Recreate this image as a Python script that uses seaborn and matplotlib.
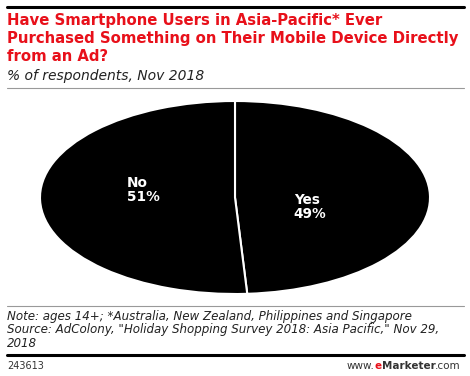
import matplotlib
matplotlib.use("Agg")
import matplotlib.pyplot as plt
import seaborn as sns
from matplotlib.lines import Line2D

# ---------- Data ----------
answers = ["Yes", "No"]
shares = [49, 51]

title = ("Have Smartphone Users in Asia-Pacific* Ever\n"
         "Purchased Something on Their Mobile Device Directly\n"
         "from an Ad?")
subtitle = "% of respondents, Nov 2018"
note = ("Note: ages 14+; *Australia, New Zealand, Philippines and Singapore\n"
        "Source: AdColony, \"Holiday Shopping Survey 2018: Asia Pacific,\" Nov 29,\n"
        "2018")
chart_id = "243613"

sns.set_theme(style="white")
plt.rcParams["font.family"] = ["DejaVu Sans"]

W, H = 470, 376
fig = plt.figure(figsize=(W / 100, H / 100), dpi=100)
fig.patch.set_facecolor("white")

def fx(px):
    return px / W

def fy(py):
    return 1 - py / H

# header / footer rules
fig.add_artist(Line2D([fx(7), fx(464)], [fy(7), fy(7)], color="black", lw=2.2))
fig.add_artist(Line2D([fx(7), fx(464)], [fy(88), fy(88)], color="#999999", lw=0.8))
fig.add_artist(Line2D([fx(7), fx(464)], [fy(306), fy(306)], color="#999999", lw=0.8))
fig.add_artist(Line2D([fx(7), fx(464)], [fy(355), fy(355)], color="black", lw=2.2))

fig.text(fx(7), fy(13), title, color="#e8101a", fontsize=10.75, fontweight="bold",
         va="top", ha="left", linespacing=1.24)
fig.text(fx(7), fy(76), subtitle, color="#222222", fontsize=10, style="italic",
         va="center", ha="left")
fig.text(fx(7), fy(310), note, color="#222222", fontsize=8.6, style="italic",
         va="top", ha="left", linespacing=1.05)
fig.text(fx(7), fy(366), chart_id, color="#333333", fontsize=7, va="center", ha="left")

# footer brand: www. e Marketer .com, laid out left to right then right-aligned
pieces = [("www.", "#333333", "normal"), ("e", "#e8101a", "bold"),
          ("Marketer", "#333333", "bold"), (".com", "#333333", "normal")]
fig.canvas.draw()
r = fig.canvas.get_renderer()
objs = []
for s, c, w in pieces:
    t = fig.text(0, fy(366), s, color=c, fontsize=7.5, fontweight=w,
                 va="center", ha="left")
    objs.append(t)
widths = [t.get_window_extent(r).width for t in objs]
start = 461 - sum(widths)
for t, w in zip(objs, widths):
    t.set_x(fx(start))
    start += w

# ---------- Pie (stretched into an ellipse) ----------
left, right, top, bottom = 40, 430, 101, 294
ax = fig.add_axes([fx(left), fy(bottom), fx(right - left), (bottom - top) / H])
wedges, _ = ax.pie(shares, colors=["black", "black"], startangle=90,
                   counterclock=False, radius=1,
                   wedgeprops=dict(edgecolor="white", linewidth=1.5))
ax.set_aspect("auto")
ax.set_xlim(-1, 1)
ax.set_ylim(-1, 1)
ax.axis("off")

label_pos = {"Yes": (0.385, -0.10), "No": (-0.47, 0.08)}
for ans, val in zip(answers, shares):
    x, y = label_pos[ans]
    ax.text(x, y, f"{ans}\n{val}%", color="white", fontsize=9.8, fontweight="bold",
            ha="center", va="center", linespacing=1.05,
            multialignment="left")

fig.savefig("out.png", dpi=100, facecolor="white")
